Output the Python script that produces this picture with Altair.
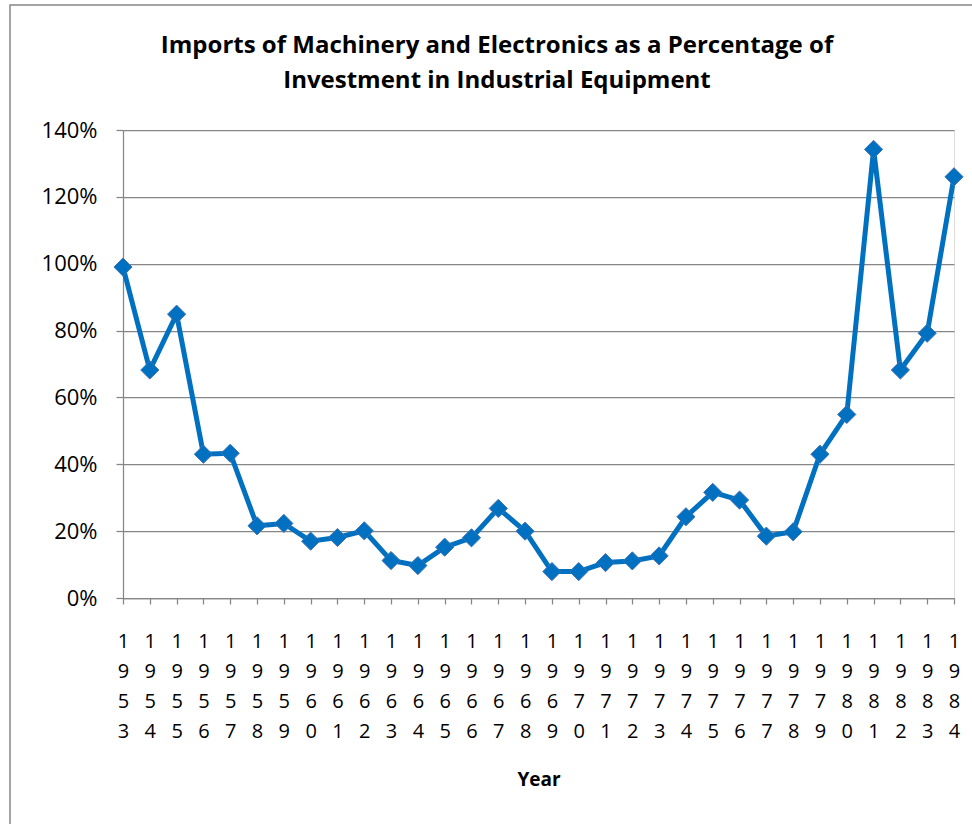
import altair as alt
import pandas as pd

years = [1953, 1954, 1955, 1956, 1957, 1958, 1959, 1960, 1961, 1962, 1963,
         1964, 1965, 1966, 1967, 1968, 1969, 1970, 1971, 1972, 1973, 1974,
         1975, 1976, 1977, 1978, 1979, 1980, 1981, 1982, 1983, 1984]
pct = [99.0, 68.2, 84.9, 43.0, 43.3, 21.6, 22.3, 17.0, 18.1, 20.1, 11.2,
       9.7, 15.2, 18.0, 26.8, 20.0, 7.9, 7.9, 10.6, 11.1, 12.6, 24.3,
       31.6, 29.3, 18.5, 19.8, 43.0, 54.9, 134.2, 68.2, 79.2, 126.0]
y_ticks = [0, 0.2, 0.4, 0.6, 0.8, 1.0, 1.2, 1.4]
title_lines = ["Imports of Machinery and Electronics as a Percentage of",
               "Investment in Industrial Equipment"]

df = pd.DataFrame({"year": years, "value": [p / 100 for p in pct]})
one = pd.DataFrame({"k": [0]})

FONT = "Open Sans"
GREY = "#868686"
BLUE = "#0070C0"

x = alt.X(
    "year:Q",
    scale=alt.Scale(domain=[1953, 1984], nice=False, zero=False),
    axis=alt.Axis(
        values=years, format="d", labelExpr="split(datum.label, '')",
        labelLineHeight=30, labelFontSize=20, labelFont=FONT, labelColor="black",
        labelAngle=0, labelOverlap=False, labelFlush=False, labelPadding=27,
        grid=False, tickSize=6, tickColor=GREY, tickWidth=1.25,
        domainColor=GREY, domainWidth=1.25,
        title="Year", titleFont=FONT, titleFontSize=19, titleFontWeight="bold",
        titleColor="black", titleBaseline="alphabetic", titleY=187,
    ),
)
y = alt.Y(
    "value:Q",
    scale=alt.Scale(domain=[0, 1.4], nice=False),
    axis=alt.Axis(
        values=y_ticks, format=".0%", labelFontSize=22, labelFont=FONT,
        labelColor="black", labelPadding=19, tickSize=7, tickColor=GREY,
        tickWidth=1.25, domainColor=GREY, domainWidth=1.25,
        grid=True, gridColor=GREY, gridWidth=1.25, title=None,
    ),
)

border = alt.Chart(one).mark_rect(
    fill="transparent", stroke=GREY, strokeWidth=1.5
).encode(
    x=alt.value(-113), x2=alt.value(900), y=alt.value(-125), y2=alt.value(760)
)

title = alt.Chart(one).mark_text(
    font=FONT, fontSize=24, fontWeight="bold", color="black",
    align="center", baseline="top", lineHeight=35
).encode(
    x=alt.value(374), y=alt.value(-96), text=alt.value(title_lines)
)

line = alt.Chart(df).mark_line(color=BLUE, strokeWidth=5).encode(x=x, y=y)
points = alt.Chart(df).mark_point(
    shape="diamond", size=330, filled=True, fill=BLUE, stroke="#3F72B5",
    strokeWidth=1, opacity=1
).encode(x=x, y=y)

chart = alt.layer(border, line, points, title).properties(
    width=831, height=468,
    autosize=alt.AutoSizeParams(type="none"),
    padding={"left": 123, "top": 130, "right": 18, "bottom": 226},
).configure_view(stroke=None).configure(background="white")

chart.save("out.html", embed_options={"renderer": "svg", "actions": False})
